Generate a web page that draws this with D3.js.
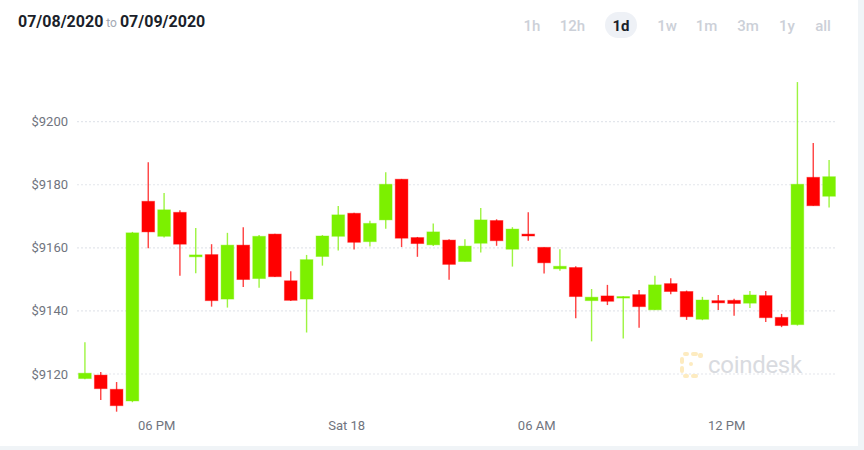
<!DOCTYPE html>
<html>
<head>
<meta charset="utf-8">
<script src="https://cdn.jsdelivr.net/npm/d3@7"></script>
<style>
  body { margin: 0; background: #f0f4f7; }
  svg { display: block; font-family: Roboto, "Liberation Sans", sans-serif; }
</style>
</head>
<body>
<div id="root"></div>
<script>
// 30 minute candles, plotted at the middle of each interval
const times = [
  "2020-07-17T15:45", "2020-07-17T16:15", "2020-07-17T16:45", "2020-07-17T17:15",
  "2020-07-17T17:45", "2020-07-17T18:15", "2020-07-17T18:45", "2020-07-17T19:15",
  "2020-07-17T19:45", "2020-07-17T20:15", "2020-07-17T20:45", "2020-07-17T21:15",
  "2020-07-17T21:45", "2020-07-17T22:15", "2020-07-17T22:45", "2020-07-17T23:15",
  "2020-07-17T23:45", "2020-07-18T00:15", "2020-07-18T00:45", "2020-07-18T01:15",
  "2020-07-18T01:45", "2020-07-18T02:15", "2020-07-18T02:45", "2020-07-18T03:15",
  "2020-07-18T03:45", "2020-07-18T04:15", "2020-07-18T04:45", "2020-07-18T05:15",
  "2020-07-18T05:45", "2020-07-18T06:15", "2020-07-18T06:45", "2020-07-18T07:15",
  "2020-07-18T07:45", "2020-07-18T08:15", "2020-07-18T08:45", "2020-07-18T09:15",
  "2020-07-18T09:45", "2020-07-18T10:15", "2020-07-18T10:45", "2020-07-18T11:15",
  "2020-07-18T11:45", "2020-07-18T12:15", "2020-07-18T12:45", "2020-07-18T13:15",
  "2020-07-18T13:45", "2020-07-18T14:15", "2020-07-18T14:45", "2020-07-18T15:15"
]
const opens = [
  9118.4, 9119.5, 9115.0, 9111.3, 9174.6, 9163.5, 9171.1, 9157.0,
  9157.7, 9143.6, 9160.7, 9150.1, 9164.2, 9149.4, 9143.6, 9157.1,
  9163.5, 9170.8, 9161.8, 9168.7, 9181.6, 9163.1, 9160.8, 9162.3,
  9155.5, 9161.3, 9168.5, 9159.4, 9164.2, 9160.0, 9153.2, 9153.6,
  9143.1, 9144.6, 9144.1, 9145.0, 9140.2, 9148.5, 9146.0, 9137.2,
  9143.1, 9143.2, 9142.3, 9144.7, 9137.8, 9135.5, 9182.2, 9176.2
]
const highs = [
  9129.9, 9120.5, 9117.3, 9164.9, 9187.0, 9177.2, 9171.8, 9166.1,
  9161.0, 9164.6, 9166.4, 9163.9, 9164.3, 9152.4, 9157.6, 9163.9,
  9173.1, 9171.0, 9168.4, 9183.8, 9181.7, 9163.3, 9167.6, 9162.6,
  9162.6, 9172.5, 9168.9, 9166.4, 9171.1, 9160.0, 9159.4, 9154.0,
  9146.8, 9148.1, 9144.5, 9146.5, 9151.0, 9150.2, 9146.3, 9144.3,
  9144.9, 9143.7, 9146.2, 9146.2, 9138.9, 9212.4, 9193.1, 9187.7
]
const lows = [
  9118.2, 9111.6, 9107.9, 9110.9, 9159.7, 9163.1, 9151.0, 9151.8,
  9141.2, 9140.9, 9147.4, 9147.2, 9150.6, 9143.0, 9133.0, 9154.2,
  9159.0, 9159.3, 9160.3, 9165.9, 9160.1, 9157.0, 9160.4, 9149.7,
  9155.5, 9158.4, 9160.5, 9153.9, 9162.1, 9151.7, 9152.6, 9137.5,
  9130.2, 9141.7, 9131.1, 9134.5, 9140.1, 9145.1, 9137.0, 9136.9,
  9140.1, 9138.3, 9140.8, 9136.3, 9134.7, 9135.2, 9173.2, 9172.6
]
const closes = [
  9120.1, 9115.2, 9109.8, 9164.6, 9164.9, 9171.9, 9161.0, 9157.6,
  9143.1, 9160.7, 9149.8, 9163.5, 9150.7, 9143.2, 9156.1, 9163.6,
  9170.3, 9161.6, 9167.6, 9180.0, 9162.9, 9161.2, 9164.9, 9154.6,
  9160.4, 9168.7, 9162.1, 9165.8, 9163.6, 9155.1, 9154.0, 9144.4,
  9144.2, 9142.9, 9144.4, 9141.2, 9148.1, 9146.0, 9138.0, 9143.3,
  9142.4, 9142.2, 9144.9, 9137.7, 9135.2, 9180.0, 9173.2, 9182.4
]

const yTicks = [9120, 9140, 9160, 9180, 9200]
const xTicks = ["2020-07-17T18:00", "2020-07-18T00:00", "2020-07-18T06:00", "2020-07-18T12:00"]
const xTickLabels = ["06 PM", "Sat 18", "06 AM", "12 PM"]
const ranges = ["1h", "12h", "1d", "1w", "1m", "3m", "1y", "all"]

const w = 864
const h = 450
const up = "#7cf000"
const down = "#ff0000"

const parse = d3.timeParse("%Y-%m-%dT%H:%M")
const candles = times.map((t, i) => ({
  t: parse(t), o: opens[i], h: highs[i], l: lows[i], c: closes[i]
}))

const svg = d3.select("#root")
  .append("svg")
  .attr("width", w)
  .attr("height", h)

// card
svg.append("rect")
  .attr("width", 858).attr("height", 446)
  .attr("fill", "#fff")

const x = d3.scaleTime()
  .domain([parse("2020-07-17T15:30"), parse("2020-07-18T15:30")])
  .range([77, 837])

const y = d3.scaleLinear()
  .domain([9100, 9220])
  .range([436.6, 58.1])

// header
const head = svg.append("text").attr("y", 27).attr("x", 18)
head.append("tspan").text("07/08/2020")
  .attr("font-size", 16).attr("font-weight", 700).attr("fill", "#1b1f2a")
head.append("tspan").text(" to ")
  .attr("font-size", 12).attr("fill", "#a3a8b3")
head.append("tspan").text("07/09/2020")
  .attr("font-size", 16).attr("font-weight", 700).attr("fill", "#1b1f2a")

const btnX = [532, 572.5, 621, 667, 706.5, 748, 787, 823]
svg.append("rect")
  .attr("x", 605).attr("y", 12).attr("width", 32).attr("height", 26)
  .attr("rx", 13).attr("fill", "#eef1f6")
svg.selectAll("text.range")
  .data(ranges)
  .enter()
  .append("text")
  .attr("class", "range")
  .attr("x", (d, i) => btnX[i])
  .attr("y", 31)
  .attr("text-anchor", "middle")
  .attr("font-size", 15)
  .attr("font-weight", d => d === "1d" ? 700 : 500)
  .attr("fill", d => d === "1d" ? "#1b1f2a" : "#ccd0d8")
  .text(d => d)

// grid + y labels
const yAxis = svg.append("g")
  .attr("transform", "translate(77,0)")
  .call(d3.axisLeft(y).tickValues(yTicks).tickSize(-760).tickFormat(d => "$" + d))
yAxis.select(".domain").remove()
yAxis.selectAll(".tick line")
  .attr("stroke", "#e3e6ec")
  .attr("stroke-width", 1.2)
  .attr("stroke-dasharray", "2,2")
yAxis.selectAll(".tick text")
  .attr("x", -9)
  .attr("dy", "0.35em")
  .attr("font-size", 13)
  .attr("fill", "#70747e")
  .attr("font-family", "Roboto, sans-serif")

// x labels
const xAxis = svg.append("g")
  .attr("transform", "translate(0,416)")
  .call(d3.axisBottom(x).tickValues(xTicks.map(parse)).tickSize(0)
    .tickFormat((d, i) => xTickLabels[i]))
xAxis.select(".domain").remove()
xAxis.selectAll(".tick text")
  .attr("y", 14)
  .attr("dy", 0)
  .attr("font-size", 13)
  .attr("fill", "#70747e")
  .attr("font-family", "Roboto, sans-serif")

// watermark
const wm = svg.append("g").attr("transform", "translate(680,352)")
const logo = [[3, 0, 6, 4], [11, 0, 7, 4], [0, 5, 4, 7], [0, 14, 4, 7], [3, 22, 6, 4], [11, 22, 7, 4], [18, 1, 5, 5], [9, 10, 4, 4]]
wm.selectAll("rect")
  .data(logo)
  .enter()
  .append("rect")
  .attr("x", d => d[0]).attr("y", d => d[1])
  .attr("width", d => d[2]).attr("height", d => d[3])
  .attr("rx", 2)
  .attr("fill", "#fdebc0")
wm.append("text")
  .attr("x", 28).attr("y", 21)
  .attr("font-size", 24)
  .attr("letter-spacing", -0.3)
  .attr("fill", "#d9dbe0")
  .attr("font-family", "Roboto, sans-serif")
  .text("coindesk")

// candles
const step = x(parse(times[1])) - x(parse(times[0]))
const bw = step * 0.8
const g = svg.selectAll("g.candle")
  .data(candles)
  .enter()
  .append("g")
  .attr("class", "candle")
  .attr("transform", d => `translate(${x(d.t)},0)`)

g.append("line")
  .attr("y1", d => y(d.h))
  .attr("y2", d => y(d.l))
  .attr("stroke", d => d.c >= d.o ? up : down)
  .attr("stroke-opacity", 0.75)
  .attr("stroke-width", 1.4)

g.append("rect")
  .attr("x", -bw / 2)
  .attr("width", bw)
  .attr("y", d => y(Math.max(d.o, d.c)))
  .attr("height", d => Math.max(1.5, Math.abs(y(d.o) - y(d.c))))
  .attr("fill", d => d.c >= d.o ? up : down)
  .attr("stroke", d => d.c >= d.o ? up : down)
  .attr("stroke-opacity", 0.4)
  .attr("stroke-width", 1)
</script>
</body>
</html>
